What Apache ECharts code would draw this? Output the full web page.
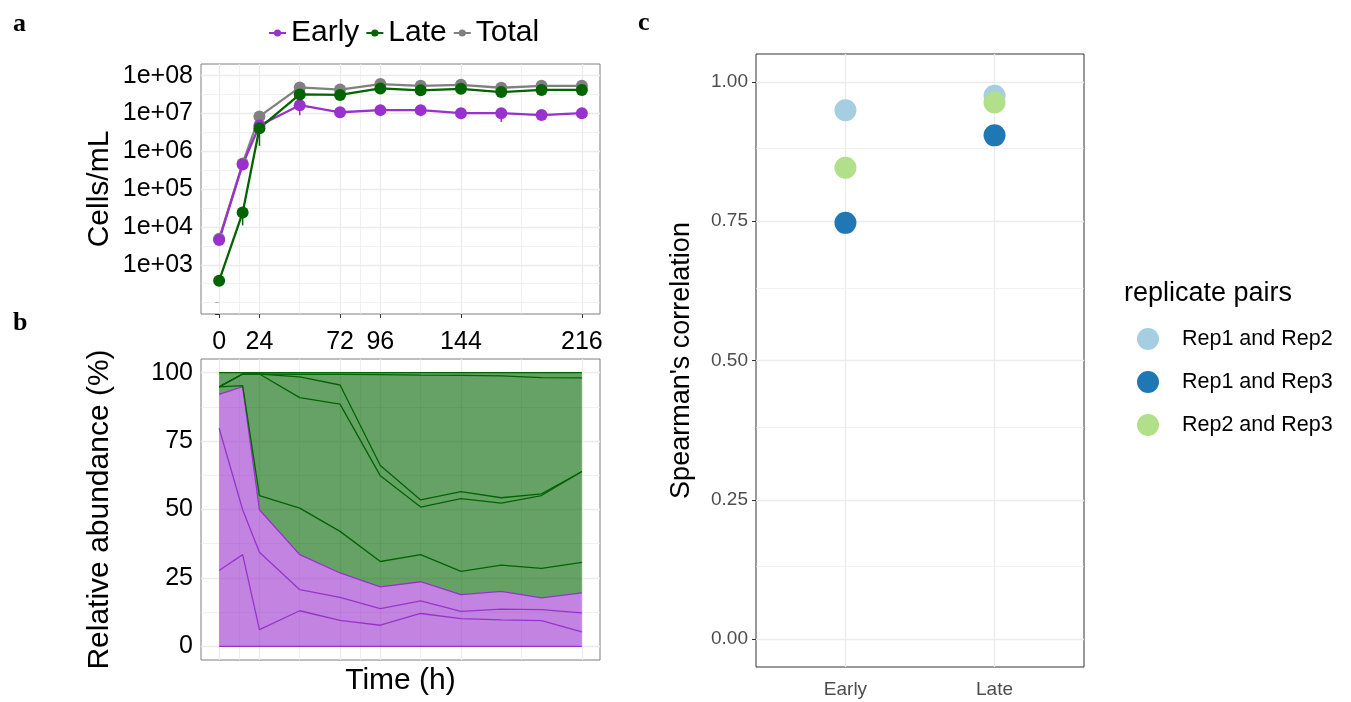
<!DOCTYPE html>
<html lang="en">
<head>
<meta charset="UTF-8">
<title>Growth and replicate correlation</title>
<script src="https://cdn.jsdelivr.net/npm/echarts@6.0.0/dist/echarts.min.js"></script>
<style>
  html, body { margin: 0; padding: 0; background: #fff; }
  #chart { width: 1351px; height: 702px; }
</style>
</head>
<body>
<div id="chart"></div>
<script>
// panel a: sampling times (h) and cell counts (cells/mL)
const hours = [0, 14, 24, 48, 72, 96, 120, 144, 168, 192, 216];
const hourTicks = [0, 24, 72, 96, 144, 216];
const hourMinor = [12, 48, 84, 120, 180];
const early = [4.5e3, 4.5e5, 4.8e6, 1.66e7, 1.08e7, 1.23e7, 1.23e7, 1.02e7, 1.02e7, 9.1e6, 1.02e7];
const late = [380, 2.4e4, 4.1e6, 3.2e7, 3.1e7, 4.6e7, 4.1e7, 4.5e7, 3.7e7, 4.2e7, 4.2e7];
const total = [4.9e3, 4.8e5, 8.4e6, 4.9e7, 4.3e7, 6.0e7, 5.4e7, 5.75e7, 4.8e7, 5.4e7, 5.4e7];
// error bars: [hour, low, high]
const earlyErr = [[48, 9.0e6, 1.9e7], [168, 6.0e6, 1.2e7]];
const lateErr = [[14, 1.1e4, 3.2e4], [24, 1.4e6, 5.0e6], [96, 3.6e7, 5.0e7]];
const cellMajor = [1e3, 1e4, 1e5, 1e6, 1e7, 1e8];
const cellMinor = [100, 316, 3162, 31623, 316228, 3162278, 31622777];

// panel b: relative abundance (%) of each strain, bottom to top
const earlyStrains = [
  [27.7, 33.5, 6.1, 13.0, 9.5, 7.7, 12.0, 10.1, 9.7, 9.4, 5.3],
  [52.0, 16.4, 28.3, 7.7, 8.4, 6.1, 4.6, 2.7, 3.9, 4.0, 6.9],
  [12.4, 45.0, 15.5, 12.8, 8.9, 7.9, 7.0, 6.1, 6.5, 4.3, 7.3]
];
const lateStrains = [
  [2.7, 0.4, 5.2, 17.0, 15.2, 9.3, 9.9, 8.5, 9.6, 10.8, 11.2],
  [0, 4.2, 44.4, 40.4, 46.5, 31.3, 17.4, 26.6, 22.6, 26.6, 33.2],
  [0, 0, 0, 7.6, 7.0, 3.8, 2.6, 2.5, 2.0, 0.6, 0],
  [0, 0, 0, 0.9, 3.9, 33.2, 45.6, 42.5, 44.5, 42.5, 34.2],
  [5.2, 0.5, 0.5, 0.6, 0.6, 0.7, 0.9, 1.0, 1.2, 1.8, 1.9]
];
const pctTicks = [0, 25, 50, 75, 100];
const pctMinor = [12.5, 37.5, 62.5, 87.5];

// panel c: Spearman's correlation between replicate pairs
const stages = ['Early', 'Late'];
const pairNames = ['Rep1 and Rep2', 'Rep1 and Rep3', 'Rep2 and Rep3'];
const rep12 = [0.949, 0.975];
const rep13 = [0.747, 0.904];
const rep23 = [0.846, 0.963];
const corTicks = [0, 0.25, 0.5, 0.75, 1];
const corMinor = [0.125, 0.375, 0.625, 0.875];

const PURPLE = '#9932cc', GREEN = '#006400', GREY = '#808080';
const pairColors = ['#a6cee3', '#1f78b4', '#b2df8a'];
const FONT = '"Liberation Sans", Arial, sans-serif';

const pts = vals => hours.map((h, i) => [h, vals[i]]);

function gridLines(gi, xs, ys, width) {
  return {
    type: 'line', xAxisIndex: gi, yAxisIndex: gi, data: [], zlevel: 0, silent: true,
    markLine: {
      silent: true, symbol: 'none', animation: false, label: { show: false },
      lineStyle: { color: '#ebebeb', width: width, type: 'solid' },
      data: xs.map(v => ({ xAxis: v })).concat(ys.map(v => ({ yAxis: v })))
    }
  };
}

function errBars(name, rows, color) {
  return {
    type: 'custom', name: name, xAxisIndex: 0, yAxisIndex: 0, zlevel: 1, silent: true,
    data: rows,
    encode: { x: 0, y: [1, 2] },
    renderItem: function (params, api) {
      const lo = api.coord([api.value(0), api.value(1)]);
      const hi = api.coord([api.value(0), api.value(2)]);
      return { type: 'line', shape: { x1: lo[0], y1: lo[1], x2: hi[0], y2: hi[1] },
               style: { stroke: color, lineWidth: 1.5 } };
    }
  };
}

function growthLine(name, vals, color) {
  return {
    type: 'line', name: name, xAxisIndex: 0, yAxisIndex: 0, zlevel: 1,
    data: pts(vals), symbol: 'circle', symbolSize: 12, showSymbol: true,
    lineStyle: { color: color, width: 2.3 }, itemStyle: { color: color }
  };
}

// value first, hour second, so the stack runs on the value dimension
function strainArea(name, vals, color) {
  return {
    type: 'line', name: name, xAxisIndex: 1, yAxisIndex: 1, zlevel: 1, stack: 'abund',
    data: hours.map((h, i) => [vals[i], h]), encode: { x: 1, y: 0 },
    symbol: 'none', silent: true,
    lineStyle: { color: color, width: 1.3 },
    areaStyle: { color: color, opacity: 0.6 }
  };
}

const tickStyle = { show: true, length: 4, lineStyle: { color: '#333', width: 1 } };

const series = [
  gridLines(0, hourTicks, cellMajor, 1.3),
  gridLines(0, hourMinor, cellMinor, 0.7),
  gridLines(1, hourTicks, pctTicks, 1.3),
  gridLines(1, hourMinor, pctMinor, 0.7),
  gridLines(2, [1, 2], corTicks, 1.3),
  gridLines(2, [], corMinor, 0.7),
  errBars('EarlyErr', earlyErr, PURPLE),
  errBars('LateErr', lateErr, GREEN),
  growthLine('Total', total, GREY),
  growthLine('Early', early, PURPLE),
  growthLine('Late', late, GREEN)
];
earlyStrains.forEach((v, i) => series.push(strainArea('E' + i, v, PURPLE)));
lateStrains.forEach((v, i) => series.push(strainArea('L' + i, v, GREEN)));
// baseline outline of the stacked areas
series.push({
  type: 'line', name: 'base', xAxisIndex: 1, yAxisIndex: 1, zlevel: 1, silent: true,
  data: pts(hours.map(() => 0)), symbol: 'none',
  lineStyle: { color: PURPLE, width: 1.3 }
});
[rep12, rep13, rep23].forEach((vals, i) => {
  series.push({
    type: 'scatter', name: pairNames[i], xAxisIndex: 2, yAxisIndex: 2, zlevel: 1,
    symbolSize: 22, itemStyle: { color: pairColors[i], opacity: 1 },
    data: stages.map((s, k) => [k + 1, vals[k]])
  });
});

const option = {
  animation: false,
  backgroundColor: '#fff',
  textStyle: { fontFamily: FONT },
  grid: [
    { left: 201, top: 64, width: 399, height: 250, show: true, borderColor: '#7f7f7f', borderWidth: 1, backgroundColor: 'transparent' },
    { left: 201, top: 359, width: 399, height: 301, show: true, borderColor: '#7f7f7f', borderWidth: 1, backgroundColor: 'transparent' },
    { left: 756, top: 54, width: 328, height: 613, show: true, borderColor: '#333', borderWidth: 1, backgroundColor: 'transparent' }
  ],
  xAxis: [
    { gridIndex: 0, type: 'value', min: -10.8, max: 226.8,
      axisLine: { show: false }, splitLine: { show: false },
      axisTick: Object.assign({ customValues: hourTicks }, tickStyle),
      axisLabel: { customValues: hourTicks, fontSize: 25, color: '#000', margin: 16, fontFamily: FONT } },
    { gridIndex: 1, type: 'value', min: -10.8, max: 226.8,
      axisLine: { show: false }, splitLine: { show: false }, axisTick: { show: false }, axisLabel: { show: false },
      name: 'Time (h)', nameLocation: 'middle', nameGap: 6,
      nameTextStyle: { fontSize: 30, color: '#000', fontFamily: FONT } },
    { gridIndex: 2, type: 'value', min: 0.4, max: 2.6,
      axisLine: { show: false }, splitLine: { show: false },
      axisTick: Object.assign({ customValues: [1, 2] }, tickStyle),
      axisLabel: { customValues: [1, 2], formatter: v => stages[Math.round(v) - 1],
                   fontSize: 19, color: '#4d4d4d', margin: 13, fontFamily: FONT } }
  ],
  yAxis: [
    { gridIndex: 0, type: 'log', logBase: 10, min: 50, max: 2.04e8,
      axisLine: { show: false }, splitLine: { show: false }, minorTick: { show: false },
      axisTick: tickStyle,
      axisLabel: { fontSize: 25, color: '#000', margin: 8, fontFamily: FONT,
                   formatter: v => v < 999 ? '' : '1e+0' + Math.round(Math.log10(v)) },
      name: 'Cells/mL', nameLocation: 'middle', nameGap: 86,
      nameTextStyle: { fontSize: 30, color: '#000', fontFamily: FONT } },
    { gridIndex: 1, type: 'value', min: -5, max: 105,
      axisLine: { show: false }, splitLine: { show: false },
      axisTick: Object.assign({ customValues: pctTicks }, tickStyle),
      axisLabel: { customValues: pctTicks, fontSize: 25, color: '#000', margin: 8, fontFamily: FONT },
      name: 'Relative abundance (%)', nameLocation: 'middle', nameGap: 86,
      nameTextStyle: { fontSize: 30, color: '#000', fontFamily: FONT } },
    { gridIndex: 2, type: 'value', min: -0.05, max: 1.05,
      axisLine: { show: false }, splitLine: { show: false },
      axisTick: Object.assign({ customValues: corTicks }, tickStyle),
      axisLabel: { customValues: corTicks, formatter: v => v.toFixed(2),
                   fontSize: 19, color: '#4d4d4d', margin: 8, fontFamily: FONT },
      name: "Spearman's correlation", nameLocation: 'middle', nameGap: 61,
      nameTextStyle: { fontSize: 27, color: '#000', fontFamily: FONT } }
  ],
  legend: [
    { data: ['Early', 'Late', 'Total'], orient: 'horizontal', left: 268, top: 18, padding: 0,
      itemWidth: 17, itemHeight: 9, itemGap: 6, selectedMode: false,
      textStyle: { fontSize: 30, color: '#000', fontFamily: FONT } },
    { data: pairNames, orient: 'vertical', left: 1132, top: 323, icon: 'circle',
      itemWidth: 58, itemHeight: 22, itemGap: 21, selectedMode: false,
      textStyle: { fontSize: 21.5, color: '#000', fontFamily: FONT } }
  ],
  graphic: [
    { type: 'text', left: 13, top: 11, style: { text: 'a', font: 'bold 26px "Liberation Serif", serif', fill: '#000' } },
    { type: 'text', left: 13, top: 310, style: { text: 'b', font: 'bold 26px "Liberation Serif", serif', fill: '#000' } },
    { type: 'text', left: 638, top: 10, style: { text: 'c', font: 'bold 26px "Liberation Serif", serif', fill: '#000' } },
    { type: 'text', left: 1124, top: 280, style: { text: 'replicate pairs', font: '27px ' + FONT, fill: '#000' } }
  ],
  series: series
};

const chart = echarts.init(document.getElementById('chart'));
chart.setOption(option);
</script>
</body>
</html>
